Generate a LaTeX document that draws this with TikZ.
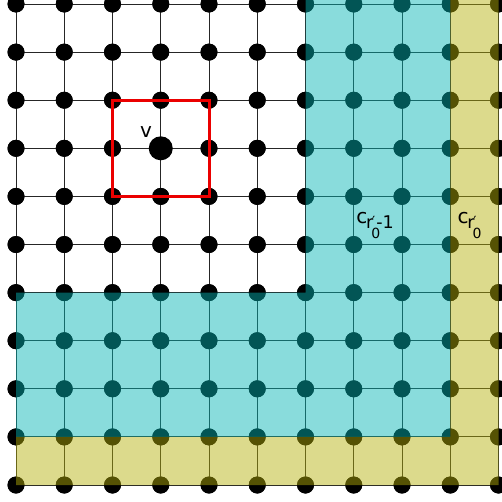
\documentclass[tikz,border=0pt]{standalone}
\usepackage{fontspec}
\setmainfont{DejaVu Sans}
\definecolor{cyanfill}{RGB}{5,181,181}
\definecolor{yellowfill}{RGB}{181,176,10}
\definecolor{sqred}{RGB}{235,0,0}
\newcommand{\piece}[4]{\rlap{\kern#1pt\raisebox{-#2pt}{\fontsize{#3}{#3}\selectfont #4}}}
\tikzset{
  dot/.style={circle,fill=black,inner sep=0pt,minimum size=17pt},
  bigdot/.style={circle,fill=black,inner sep=0pt,minimum size=24pt},
  gridline/.style={draw=black!85,line width=0.9pt},
  cyanreg/.style={fill=cyanfill,fill opacity=0.47},
  yellowreg/.style={fill=yellowfill,fill opacity=0.47},
  redsq/.style={draw=sqred,line width=3pt},
  lbl/.style={inner sep=0pt,anchor=base west,font=\fontsize{20}{20}\selectfont}
}
\begin{document}
\begin{tikzpicture}[x=1pt,y=-1pt]
\useasboundingbox (0,0) rectangle (502,501);
% dots (named positions)
\foreach \i in {0,...,10}{
  \foreach \j in {0,...,10}{
    \node[dot] (d-\i-\j) at ({16+48.25*\i},{4+48.1*\j}) {};
  }
}
% grid lines
\foreach \k in {0,...,10}{
  \draw[gridline] (d-0-\k.center) -- (d-10-\k.center);
  \draw[gridline] (d-\k-0.center) -- (d-\k-10.center);
}
% redraw dots above lines
\foreach \i in {0,...,10}{
  \foreach \j in {0,...,10}{
    \fill[black] (d-\i-\j) circle (8.5pt);
  }
}
% regions
\fill[cyanreg] (305.5,-10) -- (450.25,-10) -- (450.25,436.9) -- (16,436.9) -- (16,292.6) -- (305.5,292.6) -- cycle;
\fill[yellowreg] (450.25,-10) -- (498.5,-10) -- (498.5,485) -- (16,485) -- (16,436.9) -- (450.25,436.9) -- cycle;
% red square and v
\draw[redsq] (d-2-2.center) rectangle (d-4-4.center);
\node[bigdot] (v) at (d-3-3.center) {};
\node[inner sep=0pt,anchor=base,font=\fontsize{20}{20}\selectfont] (vlab) at (146,137) {v};
% labels
\node[lbl] (c1) at (355.6,223) {\piece{0}{0}{20}{c}\piece{9.8}{5}{17.5}{r}\piece{15.8}{3}{14}{′}\piece{15}{15}{14}{0}\piece{20}{5}{17.5}{-}\piece{26.3}{5}{17.5}{1}};
\node[lbl] (c2) at (456.9,223) {\piece{0}{0}{20}{c}\piece{9.8}{5}{17.5}{r}\piece{15.8}{3}{14}{′}\piece{15}{15}{14}{0}};
\end{tikzpicture}
\end{document}
